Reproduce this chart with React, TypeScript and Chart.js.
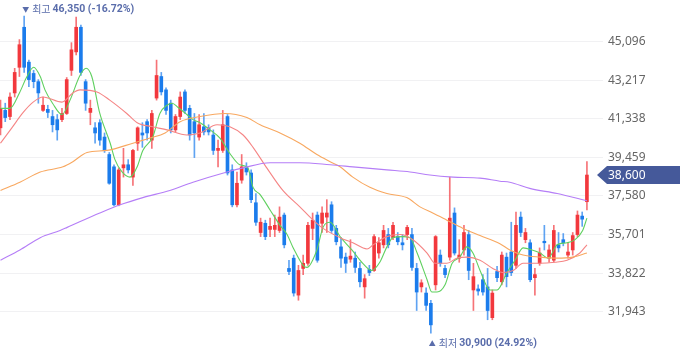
import React, { useEffect, useRef } from "react";
import { Chart, registerables } from "chart.js";
Chart.register(...registerables);

const opens = [40900,41750,41450,42600,43850,45800,44100,43550,43150,41750,41800,41450,41300,41300,41600,43700,44600,45800,43150,41650,40900,41150,40450,39600,39000,37150,38950,39100,38500,40150,40650,41200,40300,42350,43400,42750,42100,40800,41450,42650,41850,41200,40450,40950,40900,40550,39800,39800,41450,38850,37150,38350,39000,38700,37250,35800,36250,35950,35950,35900,36650,34050,34550,32750,34050,34300,36000,36650,36250,36550,37150,36000,35100,34600,34500,34550,34050,33150,34000,33950,34800,35200,35700,35550,35600,35300,35700,35700,34050,33150,32850,32350,33250,34700,34050,34600,36750,34550,34950,35700,33000,33050,33500,33150,31650,33900,33400,34600,34850,34200,36550,35450,35300,33600,34300,35350,34550,34450,35200,35450,34700,34950,35700,36600,37300];
const highs = [42250,42100,42600,43800,45200,46350,44200,43700,43250,42400,42000,41750,41550,41850,43350,45050,46300,45900,43250,42250,41150,41300,40650,39700,39100,38950,39900,39350,39850,40950,41150,41300,41750,44200,43600,42850,42250,41550,42650,42750,42000,41600,41550,41600,41050,40800,40300,41750,41550,39100,38750,39600,39200,38850,37700,36500,36400,36500,36650,37050,36750,34450,34700,34200,34700,36300,36750,36800,37050,37400,37300,36150,35550,34800,35450,34850,34350,33750,34200,35700,35550,36150,36000,36300,35800,35700,36150,36000,34300,33500,33100,32500,35650,34950,34200,38500,37000,35450,36150,35900,34300,33250,33750,34050,33000,34150,34850,34800,36300,36800,36800,36000,35450,34050,35050,36150,35200,36150,35800,35750,35300,35800,36850,36800,39250];
const lows = [40550,41200,41300,42400,43400,43600,42900,42850,42100,41700,41400,40700,40300,41200,41550,43450,44450,43450,41750,41050,40150,40050,39700,38150,37100,37100,38500,38700,38100,39800,39950,40300,39900,42250,42500,41550,40650,40700,41300,41600,40300,39450,40300,40550,40550,39600,39000,39700,38600,37050,37050,38200,38600,37250,36150,35600,35450,35600,35600,35800,35050,33750,32700,32500,33750,34200,35450,34350,35800,35800,35800,35200,34100,33850,34350,33850,33150,32600,33700,33900,34550,35050,35050,35450,35200,34950,35450,33950,32000,32900,32000,30900,33000,34150,33600,34450,34700,34350,34700,33500,32000,32750,32750,31550,31550,33400,33250,33150,33700,34050,35600,35300,33400,32750,34200,34950,34350,34350,34850,35150,34550,34700,35600,36100,36900];
const closes = [41850,41400,42400,43600,44950,43850,43250,43150,42600,42000,41650,41050,40800,41600,43250,44700,45800,43600,42100,41850,40650,40300,39800,38200,37150,38850,39100,38850,39800,40900,40550,40650,41600,43450,42650,41750,40800,41450,42400,41750,40550,40650,41050,40700,40700,39800,39900,41050,38700,37150,38200,39000,38750,37400,36300,36300,35600,36100,36150,36550,35200,33900,32850,33950,34300,36150,36400,34450,36750,36750,35900,35350,34550,34300,34650,34100,33400,33550,33850,35600,35300,35900,35200,36150,35350,35200,36050,34100,32900,33350,32250,31300,35600,34300,33750,36500,34800,34700,35800,33950,33650,32950,32900,32000,32850,33600,34700,33650,33850,36150,35800,35800,33500,33750,34800,35300,34950,35900,35050,35300,34850,35650,36650,36450,38600];

const yTicks = [31943, 33822, 35701, 37580, 39459, 41338, 43217, 45096];

// moving-average lines as [candle index, price]
const ma5 = [[0,41850],[2,41850],[4,42600],[5.6,43400],[7,43850],[8.4,43400],[9.4,42750],[11,42100],[13,41550],[14.7,42250],[16.8,43450],[18.1,43800],[19.3,43400],[21,41600],[23.2,40150],[24.2,39350],[25.7,38750],[27.4,38500],[28.9,39000],[30.1,39800],[32.2,40450],[33.7,41600],[35.2,42000],[36.3,42100],[37.5,41900],[39.4,41550],[40.7,41300],[42.2,41150],[44.3,40800],[46.4,40400],[48.5,39650],[50.6,39100],[52.3,38950],[53.4,38000],[54.9,37650],[57,36900],[59.1,36150],[60.6,35700],[61.8,35100],[64,34200],[64.8,34100],[66.9,34950],[68.2,36050],[69.7,36300],[71.8,35600],[74.3,34950],[76.6,34300],[78.5,33950],[80.2,34350],[81.7,35100],[83,35550],[85.1,35600],[86.6,35550],[88.1,34800],[90.2,33500],[91.2,32900],[92.3,32900],[94,33250],[95.5,34300],[97.1,34600],[98.6,35100],[99.9,34800],[101.4,33950],[103.5,33000],[105,33000],[107.1,33850],[108.8,34450],[110.5,35050],[112.4,34950],[114.1,34800],[115.8,34550],[117.7,35200],[119.8,35300],[121.5,35450],[123.1,35900],[124,36500]];
const ma20 = [[0,40150],[2.4,40900],[4.8,41650],[6.9,42150],[9,42400],[13,42150],[15.3,42600],[16.8,42750],[20.4,42650],[23.1,42250],[26.7,41600],[28.9,41150],[32.2,40950],[35.2,40800],[39.4,40550],[42.2,40650],[45.8,41050],[48.5,40950],[51.3,40550],[53.4,39950],[56.3,38950],[59.7,37850],[63.3,37050],[66.1,36400],[68.2,36000],[71.8,35550],[74.5,35300],[77.5,35000],[78.8,35200],[81.7,35600],[84.5,35700],[87.2,35450],[90.2,34800],[91.9,34300],[94.4,34300],[96.5,34550],[98.6,34600],[101.4,34450],[104.1,34050],[106.2,33850],[108.4,33950],[110.5,34300],[114.1,34300],[117.2,34350],[119.8,34450],[122.5,34800],[124,35200]];
const ma60 = [[0,37850],[4.1,38250],[8.4,38750],[13.2,39000],[15.3,39250],[18.3,39700],[22.5,39800],[28,40150],[31.6,40400],[34.8,40650],[38,41200],[42.2,41450],[47.5,41600],[52.1,41400],[54.9,41050],[59.1,40650],[63.3,40150],[66.9,39600],[69.7,39250],[71.8,39000],[74.5,38500],[78.1,38000],[81.7,37700],[85.9,37500],[88.7,37050],[91.4,36750],[94.4,36400],[97.8,36000],[101.4,35650],[105.6,35250],[107.7,34950],[110.5,34700],[114.1,34600],[117.7,34550],[121,34600],[124,34800]];
const ma120 = [[0,34450],[4.1,34950],[8.4,35550],[12.6,35900],[14.1,36050],[21,36750],[25.3,37150],[30.1,37500],[35.8,37850],[40.7,38250],[47.9,38750],[51.3,38950],[57,39200],[63.3,39200],[69.7,39100],[74.5,39000],[81.7,38850],[86.6,38750],[90.8,38600],[95.7,38500],[101.4,38450],[105.6,38300],[107.7,38250],[111.9,37950],[117.7,37700],[124,37350]];

const UP = "#f2383d";
const DOWN = "#1b7cec";
const UP_WICK = "rgba(242,56,61,0.7)";
const DOWN_WICK = "rgba(27,124,236,0.7)";
const NOTE = "#5a6dab";
const KFONT = "'Noto Sans CJK KR', 'Noto Sans', sans-serif";
const NFONT = "Roboto, 'Noto Sans', sans-serif";

const fmt = (v: number) => Math.round(v).toLocaleString("en-US");

const notePlugin = {
  id: "notes",
  afterDraw(chart: any) {
    const ctx = chart.ctx as CanvasRenderingContext2D;
    const xs = chart.scales.x;
    const ys = chart.scales.y;
    const last = closes[closes.length - 1];
    let hi = 0, lo = 0;
    highs.forEach((v, i) => { if (v > highs[hi]) hi = i; });
    lows.forEach((v, i) => { if (v < lows[lo]) lo = i; });
    const drawNote = (i: number, y: number, arrow: string, word: string, val: number) => {
      const pct = ((last - val) / val) * 100;
      const pctStr = (pct >= 0 ? "" : "-") + Math.abs(pct).toFixed(2) + "%";
      let x = xs.getPixelForValue(i) - 2;
      ctx.save();
      ctx.fillStyle = NOTE;
      ctx.textBaseline = "middle";
      ctx.textAlign = "left";
      ctx.font = `7px ${KFONT}`;
      ctx.fillText(arrow, x, y);
      x += ctx.measureText(arrow).width + 3;
      ctx.font = `10px ${KFONT}`;
      ctx.fillText(word, x, y);
      x += ctx.measureText(word).width + 2;
      ctx.font = `bold 10.5px ${NFONT}`;
      ctx.fillText(`${fmt(val)} (${pctStr})`, x, y + 0.5);
      ctx.restore();
    };
    drawNote(hi, 9, "▼", "최고", highs[hi]);
    drawNote(lo, 343, "▲", "최저", lows[lo]);

    // last price tag
    const y = ys.getPixelForValue(last);
    const left = chart.chartArea.right - 6;
    ctx.save();
    ctx.fillStyle = "#45599a";
    ctx.beginPath();
    ctx.moveTo(left, y);
    ctx.lineTo(left + 10, y - 9);
    ctx.lineTo(680, y - 9);
    ctx.lineTo(680, y + 9);
    ctx.lineTo(left + 10, y + 9);
    ctx.closePath();
    ctx.fill();
    ctx.fillStyle = "#ffffff";
    ctx.font = `12px 'Noto Sans', sans-serif`;
    ctx.textBaseline = "middle";
    ctx.textAlign = "left";
    ctx.fillText(fmt(last), chart.chartArea.right + 5, y + 0.5);
    ctx.restore();
  },
};

export default function App() {
  const ref = useRef<HTMLCanvasElement>(null);
  useEffect(() => {
    const idx = opens.map((_, i) => i);
    const up = idx.map((i) => closes[i] >= opens[i]);
    const line = (pts: number[][], color: string) => ({
      type: "line" as const,
      data: pts.map(([x, y]) => ({ x, y })),
      borderColor: color,
      borderWidth: 1.1,
      pointRadius: 0,
      tension: 0.4,
      cubicInterpolationMode: "monotone" as const,
      order: 0,
    });
    const chart = new Chart(ref.current!, {
      type: "bar",
      data: {
        datasets: [
          line(ma120, "#b57ef7"),
          line(ma60, "#f8a860"),
          line(ma20, "#f58585"),
          line(ma5, "#5fd05f"),
          {
            type: "bar",
            data: idx.map((i) => ({ x: i, y: [lows[i], highs[i]] })) as any,
            backgroundColor: idx.map((i) => (up[i] ? UP_WICK : DOWN_WICK)),
            barThickness: 1,
            grouped: false,
            order: 2,
          } as any,
          {
            type: "bar",
            data: idx.map((i) => ({ x: i, y: [opens[i], closes[i]] })) as any,
            backgroundColor: idx.map((i) => (up[i] ? UP : DOWN)),
            barThickness: 3,
            minBarLength: 1.5,
            grouped: false,
            order: 1,
          } as any,
        ],
      },
      options: {
        responsive: false,
        animation: false,
        events: [],
        layout: { padding: 0 },
        plugins: { legend: { display: false }, tooltip: { enabled: false } },
        scales: {
          x: { type: "linear", min: -0.106, max: 127.4, display: false, offset: false },
          y: {
            position: "right",
            min: 29686,
            max: 47128,
            grid: { color: "#f1f1f3", drawTicks: false },
            border: { display: false },
            ticks: {
              padding: 5,
              color: "#666666",
              font: { family: "'Noto Sans', sans-serif", size: 12 },
              callback: (v: any) => fmt(Number(v)),
            },
            afterBuildTicks: (s: any) => {
              s.ticks = yTicks.map((v) => ({ value: v }));
            },
            afterFit: (s: any) => {
              s.width = 77;
              s.paddingTop = 0;
              s.paddingBottom = 0;
            },
          },
        },
      } as any,
      plugins: [notePlugin],
    });
    return () => chart.destroy();
  }, []);
  return (
    <div style={{ position: "fixed", left: 0, top: 0, width: 680, height: 358, background: "#fff" }}>
      <canvas ref={ref} width={680} height={358} style={{ display: "block" }} />
    </div>
  );
}
